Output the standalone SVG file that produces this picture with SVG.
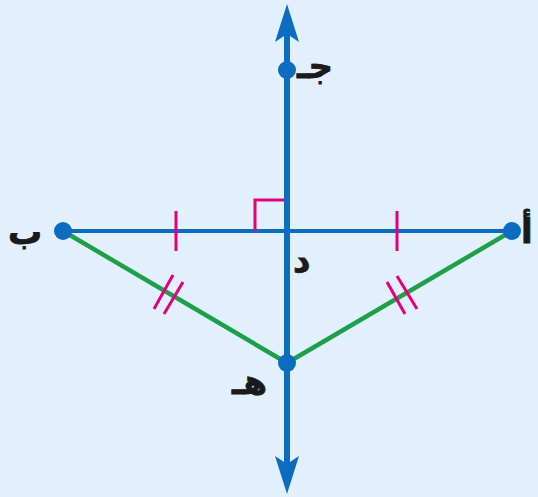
<svg xmlns="http://www.w3.org/2000/svg" width="538" height="497" viewBox="0 0 538 497">
<style>
.lbl{font-family:"DejaVu Sans","Noto Sans",sans-serif;font-weight:bold;font-size:34px;fill:#1a1a1a;stroke:#1a1a1a;stroke-width:0.8}
.mag{stroke:#e4007c;stroke-width:3;fill:none}
.grn{stroke:#1e9f4a;stroke-width:4.5;fill:none}
.pt{fill:#0b6cc0}
</style>
<rect width="538" height="497" fill="#e1f0fc"/>
<g id="connectors">
<line x1="63" y1="231" x2="512" y2="231" stroke="#0b6cc0" stroke-width="4"/>
<line class="grn" x1="63" y1="231" x2="287" y2="363"/>
<line class="grn" x1="512" y1="231" x2="287" y2="363"/>
<line x1="287" y1="30" x2="287" y2="468" stroke="#0b6cc0" stroke-width="6"/>
<path d="M287,4 L299,42 L287,34 L275,42 Z" fill="#0b6cc0"/>
<path d="M287,494 L299,456 L287,464 L275,456 Z" fill="#0b6cc0"/>
<line class="mag" x1="176" y1="211" x2="176" y2="251"/>
<line class="mag" x1="397" y1="211" x2="397" y2="251"/>
<polyline class="mag" points="255,231 255,200 284,200"/>
<line class="mag" x1="173" y1="275" x2="154" y2="309"/>
<line class="mag" x1="183" y1="282" x2="164" y2="314"/>
<line class="mag" x1="387" y1="282" x2="405" y2="314"/>
<line class="mag" x1="397" y1="276" x2="417" y2="309"/>
</g>
<g id="node-A"><circle class="pt" cx="512" cy="231" r="9"/><text class="lbl" x="521" y="243">أ</text></g>
<g id="node-B"><circle class="pt" cx="63" cy="231" r="9"/><text class="lbl" x="8" y="244">ب</text></g>
<g id="node-C"><circle class="pt" cx="287" cy="70" r="9"/><text class="lbl" x="297" y="78">جـ</text></g>
<g id="node-D"><text class="lbl" x="293" y="272">د</text></g>
<g id="node-E"><circle class="pt" cx="287" cy="363" r="9"/><text class="lbl" x="232" y="394">هـ</text></g>
</svg>
